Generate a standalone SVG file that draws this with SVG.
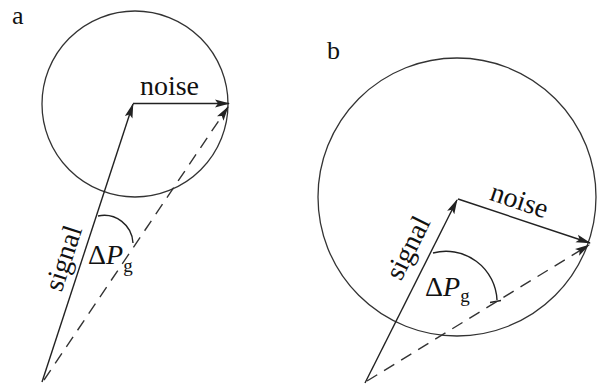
<svg xmlns="http://www.w3.org/2000/svg" width="605" height="389" viewBox="0 0 605 389">
<defs>
<style>
.c{fill:none;stroke:#333;stroke-width:1.3}
.v{fill:none;stroke:#222;stroke-width:1.4}
.d{fill:none;stroke:#333;stroke-width:1.4;stroke-dasharray:12 8}
.t{font-family:"Liberation Serif","Times New Roman",serif;font-size:28px;fill:#111}
.l{font-family:"Liberation Serif","Times New Roman",serif;font-size:26px;fill:#111}
.s{font-family:"Liberation Serif","Times New Roman",serif;font-size:19px;fill:#111}
</style>
<marker id="ah" viewBox="0 0 15 9" refX="14" refY="4.5" markerWidth="15" markerHeight="9" markerUnits="userSpaceOnUse" orient="auto">
<path d="M0,0.5 L15,4.5 L0,8.5 L3,4.5 Z" fill="#222"/>
</marker>
</defs>
<rect width="605" height="389" fill="#fff"/>
<text class="l" x="12" y="24">a</text>
<text class="l" x="327" y="59">b</text>
<g id="panel-a">
<circle id="circle-a" class="c" cx="135" cy="104" r="93"/>
<path class="v" d="M98 216 A29 29 0 0 1 133 243"/>
<text class="t" x="169.5" y="95" text-anchor="middle">noise</text>
<text class="t" transform="translate(72 261) rotate(-71.9)" text-anchor="middle">signal</text>
<text class="t" x="88" y="264">Δ<tspan font-style="italic">P</tspan><tspan class="s" font-size="19" dy="8">g</tspan></text>
</g>
<g id="panel-b">
<circle id="circle-b" class="c" cx="457" cy="197" r="139"/>
<path class="v" d="M433 253 A51 51 0 0 1 497 300 M490 302.5 L501 300.5"/>
<text class="t" transform="translate(516.5 209) rotate(18.6)" text-anchor="middle">noise</text>
<text class="t" transform="translate(416 252) rotate(-63.3)" text-anchor="middle">signal</text>
<text class="t" x="425" y="296">Δ<tspan font-style="italic">P</tspan><tspan class="s" font-size="19" dy="6">g</tspan></text>
</g>
<g id="connectors">
<line class="v" x1="42" y1="382" x2="133" y2="104" marker-end="url(#ah)"/>
<line class="v" x1="133" y1="103.5" x2="229" y2="103.5" marker-end="url(#ah)"/>
<line class="d" x1="44" y1="380" x2="228" y2="107" marker-end="url(#ah)"/>
<line class="v" x1="365" y1="383" x2="457" y2="200" marker-end="url(#ah)"/>
<line class="v" x1="458" y1="199" x2="590" y2="243" marker-end="url(#ah)"/>
<line class="d" x1="367" y1="381" x2="589" y2="245" marker-end="url(#ah)"/>
</g>
</svg>
